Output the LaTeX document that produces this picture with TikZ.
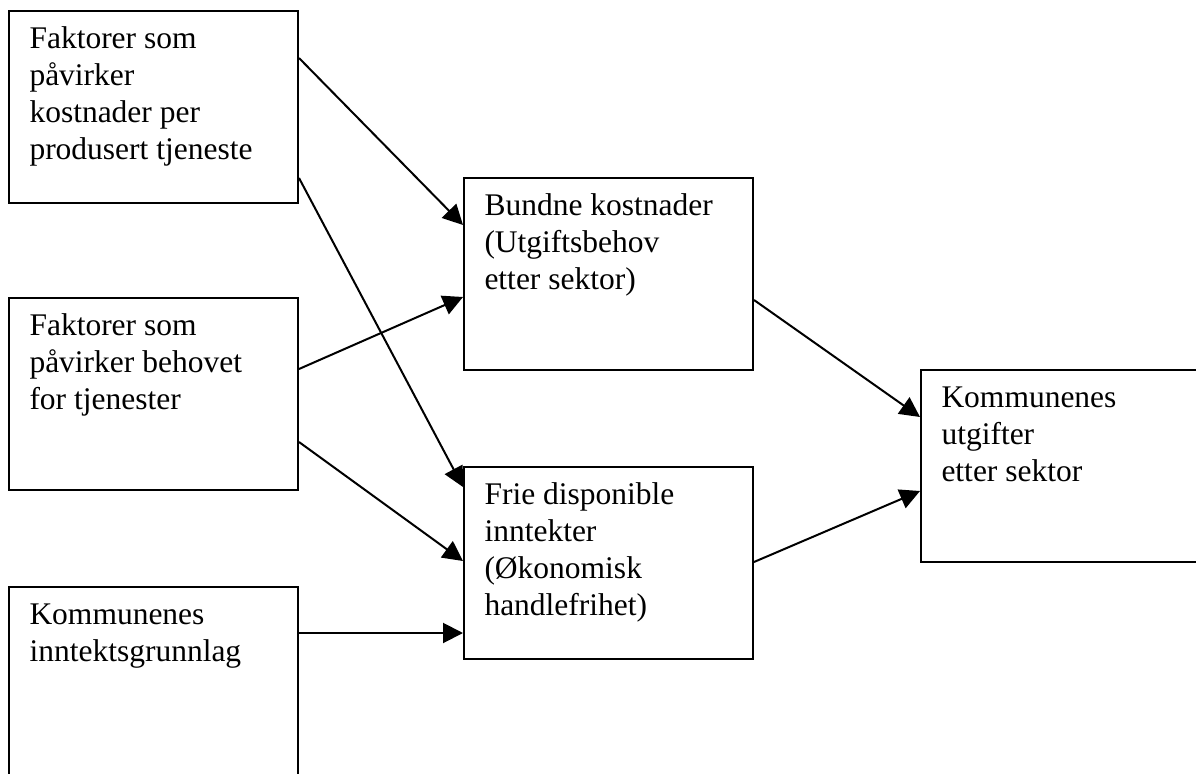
\documentclass[tikz,border=0pt]{standalone}
\usepackage{fontspec}
\setmainfont{Liberation Serif}
\usetikzlibrary{arrows.meta,positioning}
\begin{document}
\begin{tikzpicture}[x=0.4pt, y=-0.4pt,
	boks/.style={draw, line width=0.8pt, inner sep=0pt, anchor=north west, minimum width=115.6pt, minimum height=76.6pt},
	tekst/.style={inner sep=0pt, align=left, font=\fontsize{12.6}{14.8}\selectfont},
	pil/.style={line width=0.8pt, -{Triangle[length=8pt, width=8pt]}}]
	\clip (0,0) rectangle (1196,774);
	% left column
	\node[boks] (fakKost) at (8,10) {};
	\node[boks] (fakBehov) at (8,297) {};
	\node[boks] (innt) at (8,586) {};
	% middle column
	\node[boks] (bundne) at (463,177) {};
	\node[boks] (frie) at (463,466) {};
	% right
	\node[boks] (utgift) at (920,369) {};
	\node[tekst, below right=5pt and 8.4pt of fakKost.north west] (fakKostT) {\strut Faktorer som\\påvirker\\kostnader per\\produsert tjeneste};
	\node[tekst, below right=5pt and 8.4pt of fakBehov.north west] (fakBehovT) {\strut Faktorer som\\påvirker behovet\\for tjenester};
	\node[tekst, below right=5pt and 8.4pt of innt.north west] (inntT) {\strut Kommunenes\\inntektsgrunnlag};
	\node[tekst, below right=5pt and 8.4pt of bundne.north west] (bundneT) {\strut Bundne kostnader\\(Utgiftsbehov\\etter sektor)};
	\node[tekst, below right=5pt and 8.4pt of frie.north west] (frieT) {\strut Frie disponible\\inntekter\\(Økonomisk\\handlefrihet)};
	\node[tekst, below right=5pt and 8.4pt of utgift.north west] (utgiftT) {\strut Kommunenes\\utgifter\\etter sektor};
	\draw[pil] (fakKost.east |- 0,58) -- (bundne.west |- 0,225);
	\draw[pil] (fakKost.east |- 0,178) -- (frie.west |- 0,487);
	\draw[pil] (fakBehov.east |- 0,369) -- (bundne.west |- 0,297);
	\draw[pil] (fakBehov.east |- 0,442) -- (frie.west |- 0,561);
	\draw[pil] (innt.east |- 0,633) -- (frie.west |- 0,633);
	\draw[pil] (bundne.east |- 0,300) -- (utgift.west |- 0,417);
	\draw[pil] (frie.east |- 0,562) -- (utgift.west |- 0,491);
\end{tikzpicture}
\end{document}
